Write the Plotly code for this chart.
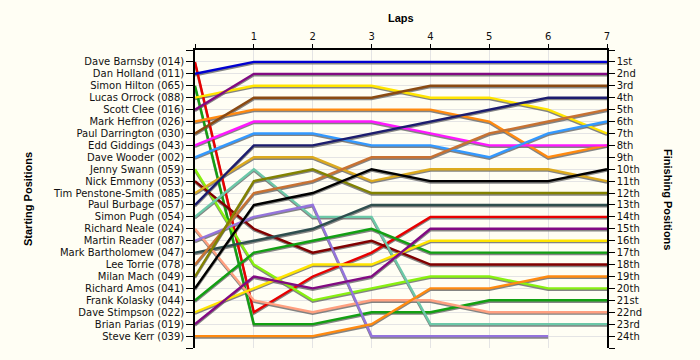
import plotly.graph_objects as go

laps = [0, 1, 2, 3, 4, 5, 6, 7]
lap_labels = ["", "1", "2", "3", "4", "5", "6", "7"]

drivers = [
    "Dave Barnsby (014)", "Dan Holland (011)", "Simon Hilton (065)", "Lucas Orrock (088)",
    "Scott Clee (016)", "Mark Heffron (026)", "Paul Darrington (030)", "Edd Giddings (043)",
    "Dave Wooder (002)", "Jenny Swann (059)", "Nick Emmony (053)", "Tim Penstone-Smith (085)",
    "Paul Burbage (057)", "Simon Pugh (054)", "Richard Neale (024)", "Martin Reader (087)",
    "Mark Bartholomew (047)", "Lee Torrie (078)", "Milan Mach (049)", "Richard Amos (041)",
    "Frank Kolasky (044)", "Dave Stimpson (022)", "Brian Parias (019)", "Steve Kerr (039)",
]

finish_labels = [
    "1st", "2nd", "3rd", "4th", "5th", "6th", "7th", "8th", "9th", "10th", "11th", "12th",
    "13th", "14th", "15th", "16th", "17th", "18th", "19th", "20th", "21st", "22nd", "23rd", "24th",
]

# Position of each driver at laps 0..7 (None = retired)
pos_barnsby = [1, 22, 19, 17, 14, 14, 14, 14]
pos_holland = [2, 1, 1, 1, 1, 1, 1, 1]
pos_hilton = [3, 23, 23, 22, 22, 21, 21, 21]
pos_orrock = [4, 3, 3, 3, 4, 4, 5, 7]
pos_clee = [5, 2, 2, 2, 2, 2, 2, 2]
pos_heffron = [6, 5, 5, 5, 5, 6, 9, 8]
pos_darrington = [7, 4, 4, 4, 3, 3, 3, 3]
pos_giddings = [8, 6, 6, 6, 7, 8, 8, 8]
pos_wooder = [9, 7, 7, 8, 8, 9, 7, 6]
pos_swann = [10, 18, 21, 20, 19, 19, 20, 20]
pos_emmony = [11, 15, 17, 16, 18, 18, 18, 18]
pos_penstone = [12, 9, 9, 11, 10, 10, 10, 11]
pos_burbage = [13, 8, 8, 7, 6, 5, 4, 4]
pos_pugh = [14, 10, 14, 14, 23, 23, 23, 23]
pos_neale = [15, 21, 22, 21, 21, 22, 22, 22]
pos_reader = [16, 14, 13, 24, 24, 24, 24, None]
pos_bartholomew = [17, 16, 15, 13, 13, 13, 13, 13]
pos_torrie = [18, 12, 11, 9, 9, 7, 6, 5]
pos_mach = [19, 11, 10, 12, 12, 12, 12, 12]
pos_amos = [20, 13, 12, 10, 11, 11, 11, 10]
pos_kolasky = [21, 17, 16, 15, 17, 17, 17, 17]
pos_stimpson = [22, 20, 18, 18, 16, 16, 16, 16]
pos_parias = [23, 19, 20, 19, 15, 15, 15, 15]
pos_kerr = [24, 24, 24, 23, 20, 20, 19, 19]

all_positions = [
    pos_barnsby, pos_holland, pos_hilton, pos_orrock, pos_clee, pos_heffron,
    pos_darrington, pos_giddings, pos_wooder, pos_swann, pos_emmony, pos_penstone,
    pos_burbage, pos_pugh, pos_neale, pos_reader, pos_bartholomew, pos_torrie,
    pos_mach, pos_amos, pos_kolasky, pos_stimpson, pos_parias, pos_kerr,
]

colors = [
    "#E80000", "#0000D0", "#12A012", "#FFE400", "#820A82", "#FF8A10",
    "#8A4A12", "#FF18FF", "#3399FF", "#88F010", "#820000", "#DCAA1E",
    "#1C1C6E", "#6CC8A8", "#FFA080", "#9474DC", "#2E4E4E", "#C87232",
    "#828200", "#000000", "#12A012", "#FFE400", "#820A82", "#FF8A10",
]

fig = go.Figure()

# drop shadows
for ys in all_positions:
    fig.add_trace(go.Scatter(
        x=laps, y=[None if v is None else v + 0.12 for v in ys], mode="lines",
        line=dict(color="rgba(110,110,110,0.85)", width=2.4),
        hoverinfo="skip", showlegend=False,
    ))

for name, ys, c in zip(drivers, all_positions, colors):
    fig.add_trace(go.Scatter(
        x=laps, y=ys, mode="lines", name=name,
        line=dict(color=c, width=2.4),
        showlegend=False,
    ))

# dummy trace for right axis
fig.add_trace(go.Scatter(x=[None], y=[None], yaxis="y2", showlegend=False, hoverinfo="skip"))

tickvals = list(range(0, 26))
bg = "#FFFEF4"
grid = "#E4E4E4"
tickfont = dict(family="DejaVu Sans", size=10, color="#111111")
titlefont = dict(family="Liberation Sans", size=11, color="black")

fig.update_layout(
    width=700, height=360,
    margin=dict(l=195, r=93, t=50, b=12, autoexpand=False),
    paper_bgcolor=bg, plot_bgcolor=bg,
    xaxis=dict(
        range=[0, 7], side="top", tickvals=laps, ticktext=lap_labels,
        ticks="outside", ticklen=4, tickcolor="black",
        showline=True, linecolor="black", linewidth=1.5,
        showgrid=True, gridcolor=grid, gridwidth=1, zeroline=False,
        tickfont=tickfont, automargin=False,
    ),
    yaxis=dict(
        range=[25, 0], tickvals=tickvals, ticktext=[""] + drivers + [""],
        ticks="outside", ticklen=7, tickcolor="black",
        showline=True, linecolor="black", linewidth=1.5,
        showgrid=True, gridcolor=grid, gridwidth=1, zeroline=False,
        tickfont=tickfont, automargin=False,
    ),
    yaxis2=dict(
        range=[25, 0], overlaying="y", side="right", tickvals=tickvals,
        ticktext=[""] + finish_labels + [""],
        ticks="outside", ticklen=6, tickcolor="black",
        showline=True, linecolor="black", linewidth=1.5,
        showgrid=False, zeroline=False, tickfont=tickfont, automargin=False,
    ),
    annotations=[
        dict(text="<b>Laps</b>", x=0.5, y=(348 - 18) / 298, xref="paper", yref="paper",
             xanchor="center", yanchor="middle", showarrow=False, font=titlefont),
        dict(text="<b>Starting Positions</b>", x=(28 - 195) / 412, y=0.5, xref="paper", yref="paper",
             xanchor="center", yanchor="middle", textangle=-90, showarrow=False, font=titlefont),
        dict(text="<b>Finishing Positions</b>", x=(668 - 195) / 412, y=0.5, xref="paper", yref="paper",
             xanchor="center", yanchor="middle", textangle=90, showarrow=False, font=titlefont),
    ],
)

fig.write_html(
    "out.html",
    config={"displayModeBar": False},
    post_script="document.body.style.margin='0px';document.body.style.background='#FFFEF4';",
)
